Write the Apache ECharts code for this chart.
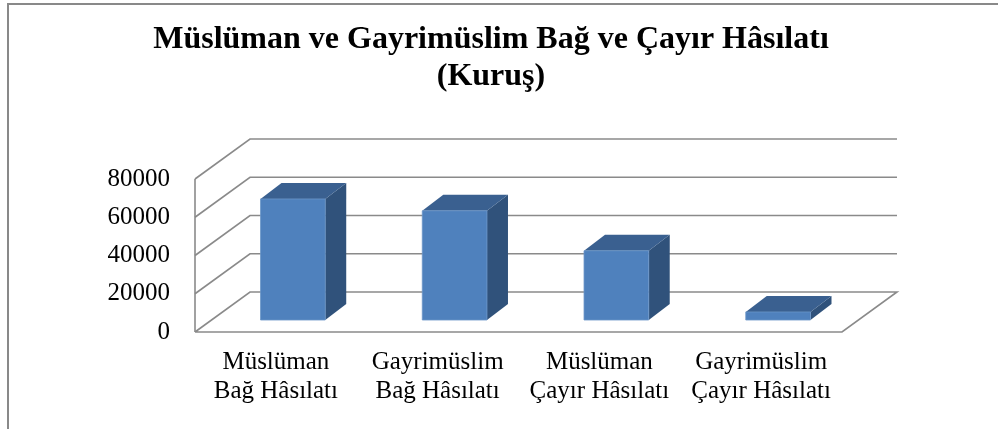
<!DOCTYPE html>
<html>
<head>
<meta charset="utf-8">
<script src="https://cdn.jsdelivr.net/npm/echarts@6/dist/echarts.min.js"></script>
<style>
  html, body { margin: 0; padding: 0; background: #fff; }
  #chart { width: 998px; height: 429px; }
</style>
</head>
<body>
<div id="chart"></div>
<script>
// kategoriler
var categories = ['Müslüman\nBağ Hâsılatı', 'Gayrimüslim\nBağ Hâsılatı', 'Müslüman\nÇayır Hâsılatı', 'Gayrimüslim\nÇayır Hâsılatı'];
// hasılat (kuruş)
var values = [63300, 57100, 36200, 4200];
// eksen çizgileri
var yTicks = [0, 20000, 40000, 60000, 80000];

// derinlik (3B görünüm)
var DX = 55, DY = -40;     // duvar derinliği
var BDX = 21, BDY = -16;   // sütun derinliği
var FONT = 'Liberation Serif';

function renderWall(params, api) {
    var v = api.value(1);
    var bw = api.size([1, 0])[0];
    var l = api.coord([0, v]);
    var r = api.coord([categories.length - 1, v]);
    var x0 = l[0] - bw / 2, x1 = r[0] + bw / 2, y = l[1];
    var pts = [[x0, y], [x0 + DX, y + DY], [x1 + DX, y + DY]];
    if (v === 0) {
        pts.push([x1, y], [x0, y]);
    }
    var children = [{
        type: 'polyline',
        shape: { points: pts },
        style: { stroke: '#8a8a8a', lineWidth: 1.6, fill: null }
    }];
    if (v === yTicks[yTicks.length - 1]) {
        var yb = api.coord([0, 0])[1];
        children.push({
            type: 'line',
            shape: { x1: x0, y1: y, x2: x0, y2: yb },
            style: { stroke: '#8a8a8a', lineWidth: 1.6 }
        });
    }
    return { type: 'group', children: children };
}

function renderBar(params, api) {
    var idx = api.value(0);
    var top = api.coord([idx, api.value(1)]);
    var base = api.coord([idx, 0]);
    var w = api.size([1, 0])[0] * 0.4;
    var ox = (DX - BDX) / 2, oy = (DY - BDY) / 2;
    var x0 = top[0] - w / 2 + ox, x1 = x0 + w;
    var yt = top[1] + oy, yb = base[1] + oy;
    return {
        type: 'group',
        children: [{
            type: 'polygon',
            shape: { points: [[x1, yt], [x1 + BDX, yt + BDY], [x1 + BDX, yb + BDY], [x1, yb]] },
            style: { fill: '#30527b' }
        }, {
            type: 'polygon',
            shape: { points: [[x0, yt], [x1, yt], [x1 + BDX, yt + BDY], [x0 + BDX, yt + BDY]] },
            style: { fill: '#3a6090' }
        }, {
            type: 'rect',
            shape: { x: x0, y: yt, width: w, height: yb - yt },
            style: { fill: '#4f81bd', stroke: '#6b95c8', lineWidth: 0.8 }
        }]
    };
}

var myChart = echarts.init(document.getElementById('chart'));
var option = {
    animation: false,
    backgroundColor: '#fff',
    title: {
        text: 'Müslüman ve Gayrimüslim Bağ ve Çayır Hâsılatı\n(Kuruş)',
        left: 486,
        top: 16,
        textAlign: 'center',
        textStyle: {
            fontFamily: FONT,
            fontWeight: 'bold',
            fontSize: 32,
            lineHeight: 37,
            color: '#000'
        }
    },
    graphic: [{
        type: 'rect',
        shape: { x: 8, y: 4, width: 1200, height: 600 },
        style: { fill: null, stroke: '#898989', lineWidth: 2 },
        silent: true
    }],
    grid: {
        left: 195,
        top: 179,
        width: 647,
        height: 153
    },
    xAxis: {
        type: 'category',
        data: categories,
        axisLine: { show: false },
        axisTick: { show: false },
        axisLabel: {
            margin: 16,
            fontFamily: FONT,
            fontSize: 25,
            lineHeight: 29,
            color: '#000',
            interval: 0
        }
    },
    yAxis: {
        type: 'value',
        min: 0,
        max: 80000,
        interval: 20000,
        axisLine: { show: false },
        axisTick: { show: false },
        splitLine: { show: false },
        axisLabel: {
            margin: 25,
            fontFamily: FONT,
            fontSize: 25,
            color: '#000',
            formatter: function (v) { return String(v); }
        }
    },
    series: [{
        type: 'custom',
        renderItem: renderWall,
        data: yTicks.map(function (v) { return [0, v]; }),
        encode: { x: 0, y: 1 },
        clip: false,
        silent: true,
        z: 1
    }, {
        type: 'custom',
        renderItem: renderBar,
        data: values.map(function (v, i) { return [i, v]; }),
        encode: { x: 0, y: 1 },
        clip: false,
        z: 2
    }]
};
myChart.setOption(option);
</script>
</body>
</html>
